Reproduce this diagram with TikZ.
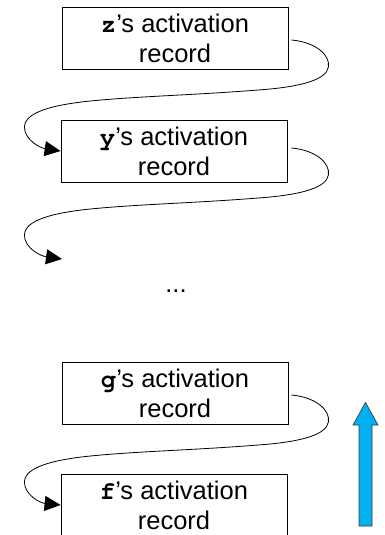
\documentclass[tikz,border=0pt]{standalone}
\usepackage{fontspec}
\setmainfont{Liberation Sans}
\newfontfamily\codefont{texgyrecursor}[Extension=.otf, UprightFont=*-bold]
\usetikzlibrary{arrows.meta,calc}
\definecolor{upblue}{RGB}{0,176,240}
\definecolor{edgegray}{RGB}{60,60,60}
\newcommand{\cd}[1]{{\codefont #1}}
\tikzset{
  recbox/.style={draw=black, line width=0.8pt, minimum width=226pt, minimum height=62pt,
    inner sep=0pt, align=center, font=\fontsize{25.5}{30}\selectfont},
  link/.style={draw=black, line width=0.8pt, -{Triangle[length=16pt,width=15pt]}},
  dots/.style={font=\fontsize{25.5}{30}\selectfont, inner sep=0pt, anchor=base}
}
\begin{document}
\begin{tikzpicture}[x=1pt,y=-1pt]
\useasboundingbox (0,0) rectangle (385,535);
\node[recbox] (z) at (175,38) {\cd{z}'s activation\\record};
\node[recbox] (y) at (174,151) {\cd{y}'s activation\\record};
\node[dots] (dd) at (176,292) {...};
\node[recbox] (g) at (175,393) {\cd{g}'s activation\\record};
\node[recbox] (f) at (174,505) {\cd{f}'s activation\\record};
\coordinate (yend) at (62,259);
% connectors
\begin{scope}[shift={([xshift=3pt,yshift=-2pt]z.east)}]
\draw[link] (0,0) .. controls (24,2) and (39,15) .. (37,27)
  .. controls (35,40) and (9,46) .. (-21,49)
  .. controls (-91,55) and (-151,56) .. (-201,61)
  .. controls (-251,66) and (-267,76) .. (-267,87)
  .. controls (-267,100) and (-251,108) .. (y.west);
\end{scope}
\begin{scope}[shift={([xshift=4pt,yshift=3pt]y.east)}]
\draw[link] (0,0) .. controls (24,2) and (39,15) .. (37,27)
  .. controls (35,40) and (9,46) .. (-21,49)
  .. controls (-91,55) and (-151,56) .. (-201,61)
  .. controls (-251,66) and (-267,76) .. (-267,87)
  .. controls (-267,100) and (-251,108) .. (yend);
\end{scope}
\begin{scope}[shift={([xshift=3pt,yshift=-2pt]g.east)}]
\draw[link] (0,0) .. controls (24,2) and (39,15) .. (37,27)
  .. controls (35,40) and (9,46) .. (-21,49)
  .. controls (-91,55) and (-151,56) .. (-201,61)
  .. controls (-251,66) and (-267,76) .. (-267,87)
  .. controls (-267,100) and (-251,108) .. (f.west);
\end{scope}
% blue upward arrow
\draw[fill=upblue, draw=edgegray, line width=0.7pt, line join=miter]
  (359,526) -- (359,425) -- (353,425) -- (365.5,402.5) -- (378,425) -- (372,425) -- (372,526) -- cycle;
\end{tikzpicture}
\end{document}
